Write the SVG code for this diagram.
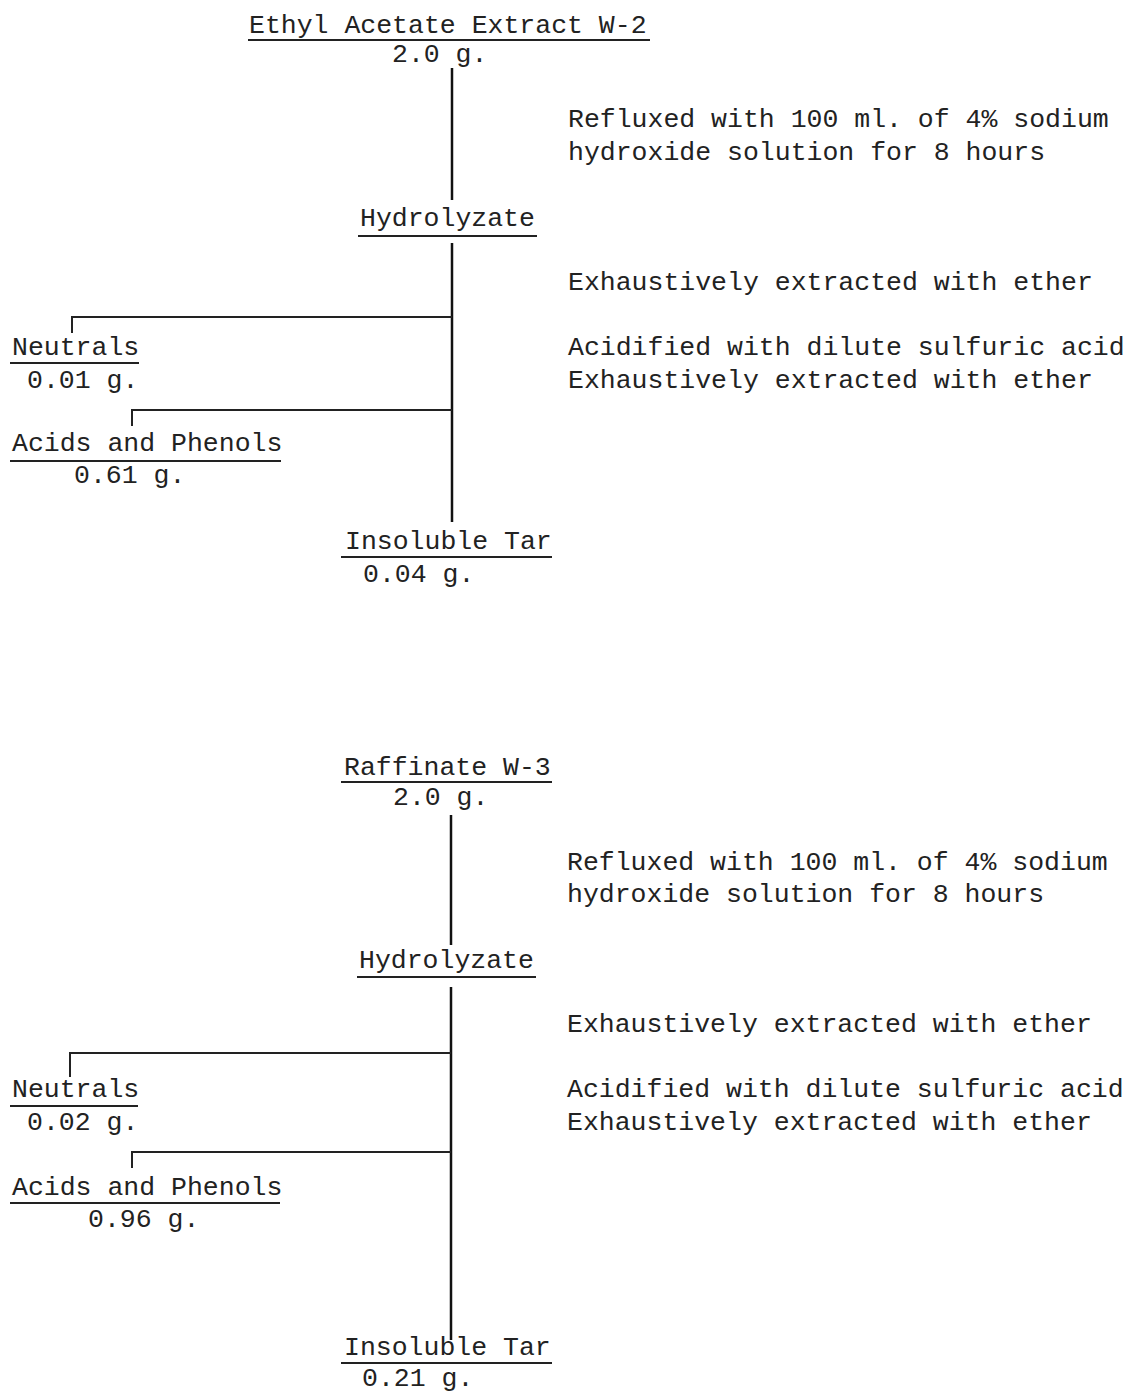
<svg xmlns="http://www.w3.org/2000/svg" width="1129" height="1395" viewBox="0 0 1129 1395">
<style>
text{font-family:"Liberation Mono","DejaVu Sans Mono",monospace;font-size:26.5px;fill:#222}
.ul{stroke:#222;stroke-width:1.8}
.c{stroke:#111;stroke-width:2.5;fill:none}
.h{stroke:#222;stroke-width:2;fill:none}
</style>
<rect width="1129" height="1395" fill="#fff"/>
<g id="connectors">
<line class="c" x1="452" y1="68" x2="452" y2="200"/>
<line class="c" x1="452" y1="243" x2="452" y2="522"/>
<polyline class="h" points="452,317 72,317 72,333"/>
<polyline class="h" points="452,410 132,410 132,426"/>
<line class="c" x1="451" y1="815" x2="451" y2="945"/>
<line class="c" x1="451" y1="987" x2="451" y2="1340"/>
<polyline class="h" points="451,1053 70,1053 70,1077"/>
<polyline class="h" points="451,1152 132,1152 132,1168"/>
</g>
<g id="extract">
<text x="249" y="33">Ethyl Acetate Extract W-2</text>
<line class="ul" x1="248" y1="40" x2="650" y2="40"/>
<text x="392" y="62">2.0 g.</text>
</g>
<g id="step1a">
<text x="568" y="127">Refluxed with 100 ml. of 4% sodium</text>
<text x="568" y="160">hydroxide solution for 8 hours</text>
</g>
<g id="hydrolyzate1">
<text x="360" y="226">Hydrolyzate</text>
<line class="ul" x1="358" y1="236" x2="537" y2="236"/>
</g>
<g id="step2a"><text x="568" y="290">Exhaustively extracted with ether</text></g>
<g id="step3a">
<text x="568" y="355">Acidified with dilute sulfuric acid</text>
<text x="568" y="388">Exhaustively extracted with ether</text>
</g>
<g id="neutrals1">
<text x="12" y="355">Neutrals</text>
<line class="ul" x1="10" y1="363" x2="139" y2="363"/>
<text x="27" y="388">0.01 g.</text>
</g>
<g id="acids1">
<text x="12" y="451">Acids and Phenols</text>
<line class="ul" x1="10" y1="461" x2="281" y2="461"/>
<text x="74" y="483">0.61 g.</text>
</g>
<g id="tar1">
<text x="345" y="549">Insoluble Tar</text>
<line class="ul" x1="341" y1="557" x2="552" y2="557"/>
<text x="363" y="582">0.04 g.</text>
</g>
<g id="raffinate">
<text x="344" y="775">Raffinate W-3</text>
<line class="ul" x1="341" y1="782" x2="552" y2="782"/>
<text x="393" y="805">2.0 g.</text>
</g>
<g id="step1b">
<text x="567" y="870">Refluxed with 100 ml. of 4% sodium</text>
<text x="567" y="902">hydroxide solution for 8 hours</text>
</g>
<g id="hydrolyzate2">
<text x="359" y="968">Hydrolyzate</text>
<line class="ul" x1="357" y1="977" x2="536" y2="977"/>
</g>
<g id="step2b"><text x="567" y="1032">Exhaustively extracted with ether</text></g>
<g id="step3b">
<text x="567" y="1097">Acidified with dilute sulfuric acid</text>
<text x="567" y="1130">Exhaustively extracted with ether</text>
</g>
<g id="neutrals2">
<text x="12" y="1097">Neutrals</text>
<line class="ul" x1="10" y1="1106" x2="138" y2="1106"/>
<text x="27" y="1130">0.02 g.</text>
</g>
<g id="acids2">
<text x="12" y="1195">Acids and Phenols</text>
<line class="ul" x1="10" y1="1203" x2="280" y2="1203"/>
<text x="88" y="1227">0.96 g.</text>
</g>
<g id="tar2">
<text x="344" y="1355">Insoluble Tar</text>
<line class="ul" x1="341" y1="1363" x2="552" y2="1363"/>
<text x="362" y="1386">0.21 g.</text>
</g>
</svg>
